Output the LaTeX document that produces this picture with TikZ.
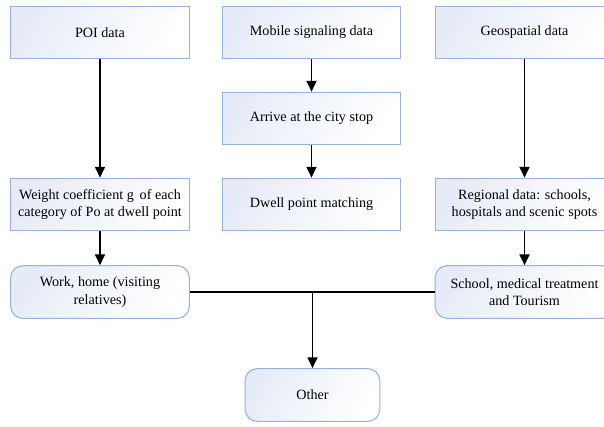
\documentclass[tikz,border=0pt]{standalone}
\usepackage{fontspec}
\setmainfont{Liberation Serif}
\usetikzlibrary{arrows.meta, positioning}
\definecolor{boxline}{HTML}{95B3D7}
\definecolor{boxfill}{HTML}{E6ECF7}
\tikzset{
	flownode/.style={
			shape=rectangle,
			draw=boxline,
			line width=0.8pt,
			left color=boxfill,
			right color=white,
			shading angle=60,
			minimum width=134pt,
			minimum height=39.5pt,
			inner sep=2pt,
			align=center,
			font=\fontsize{10.6}{13}\selectfont
		},
	resultnode/.style={
			flownode,
			rounded corners=9pt
		},
	flowarrow/.style={
			line width=1pt,
			-{Triangle[length=8pt,width=7.5pt]}
		},
	flowline/.style={
			line width=1pt
		}
}

\begin{document}
\begin{tikzpicture}[x=0.75pt,y=-0.75pt]
\useasboundingbox (0,0) rectangle (604,426);

              % sources
              \node[flownode] (poi) at (100,32.5) {POI data};
              \node[flownode] (mobile) at (311.5,32.5) {Mobile signaling data};
              \node[flownode] (geo) at (524.5,32.5) {Geospatial data};

              % middle steps
              \node[flownode] (arrive) at (311.5,118.5) {Arrive at the city stop};
              \node[flownode] (weight) at (100,204.5) {Weight coefficient g\, of each\\category of Po at dwell point};
              \node[flownode] (dwell) at (311.5,204.5) {Dwell point matching};
              \node[flownode] (regional) at (524.5,204.5) {Regional data: schools,\\hospitals and scenic spots};

              % results
              \node[resultnode] (work) at (100,292) {Work, home (visiting\\relatives)};
              \node[resultnode] (school) at (524.5,292) {School, medical treatment\\and Tourism};
              \node[resultnode, minimum width=101pt] (other) at (312.5,395) {Other};

              \draw[flowarrow] (poi) -- (weight);
              \draw[flowarrow] (mobile) -- (arrive);
              \draw[flowarrow] (arrive) -- (dwell);
              \draw[flowarrow] (geo) -- (regional);
              \draw[flowarrow] (weight) -- (work);
              \draw[flowarrow] (regional) -- (school);

              \draw[flowline] (work) -- (school);
              \coordinate (join) at (other.north |- work.east);
              \draw[flowarrow] (join) -- (other);

            \end{tikzpicture}
\end{document}
